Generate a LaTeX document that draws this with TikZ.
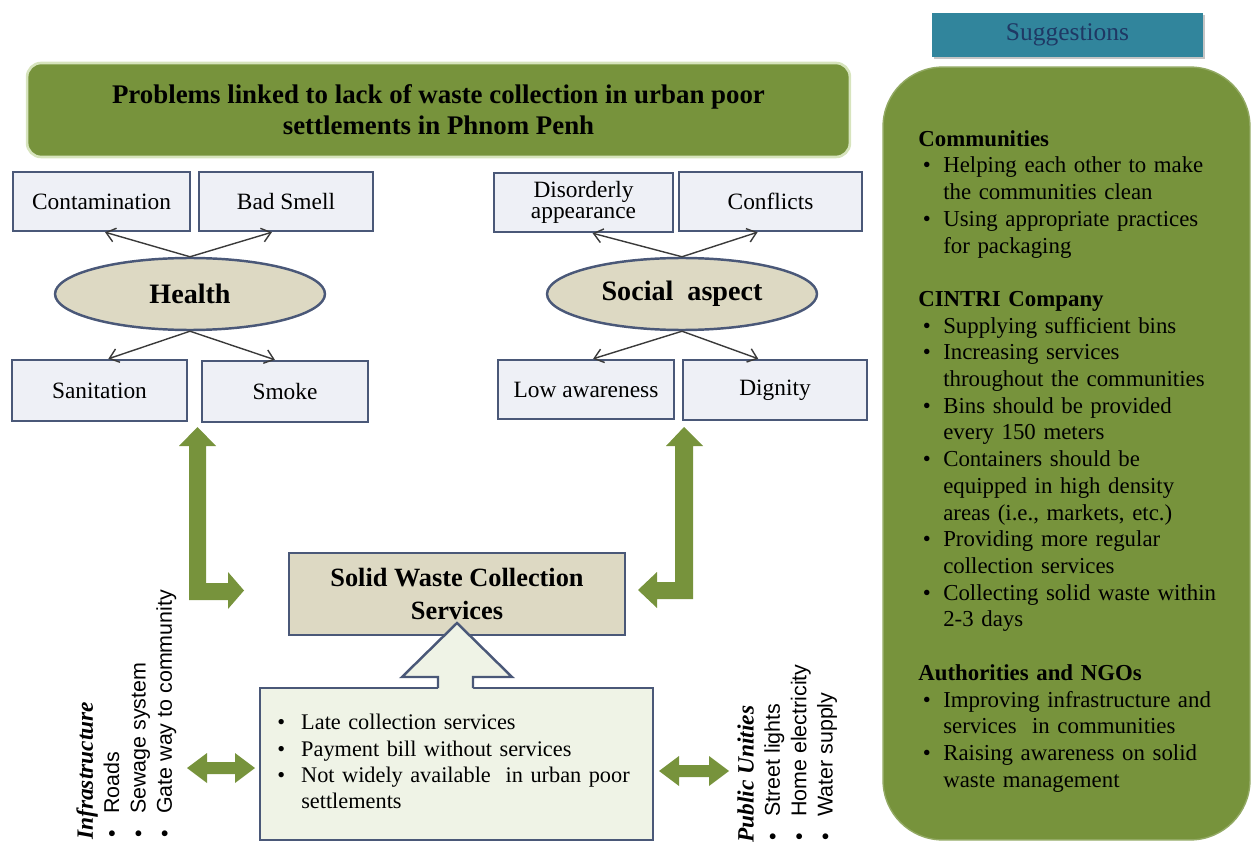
\documentclass[tikz,border=0pt]{standalone}
\usepackage{fontspec}
\setmainfont{Liberation Serif}
\setsansfont{Liberation Sans}
\usetikzlibrary{shapes.geometric,arrows.meta,calc,shadows}
\definecolor{oliveG}{HTML}{77933C}
\definecolor{titleB}{HTML}{D7E4BD}
\definecolor{boxline}{HTML}{4A5878}
\definecolor{boxfill}{HTML}{EEF0F6}
\definecolor{tanF}{HTML}{DDD9C3}
\definecolor{botF}{HTML}{EFF3E6}
\definecolor{tealS}{HTML}{31859C}
\definecolor{navyT}{HTML}{1F3864}
\definecolor{arrowc}{HTML}{3A3A3A}
\newcommand\bitm{\makebox[14.7pt][l]{\hspace{1pt}\textbullet}}
\newcommand\nl{\hfill\break}
\newcommand\sitm[1]{\hangindent=14.2pt\hangafter=1\noindent\makebox[14.2pt][l]{\hspace{2.5pt}\textbullet}#1\par}
\newcommand\pitm[1]{\hangindent=13.6pt\hangafter=1\noindent\makebox[13.6pt][l]{\textbullet}#1\par}
\begin{document}
\begin{tikzpicture}[x=0.02cm,y=-0.02cm,
  sbox/.style={draw=boxline, line width=1.4pt, fill=boxfill, minimum height=1.18cm, inner sep=0pt, align=center, font={\fontsize{13.3}{12}\selectfont}},
  ell/.style={ellipse, draw=boxline, line width=1.4pt, fill=tanF, minimum width=5.4cm, minimum height=1.44cm, inner sep=0pt, font={\fontsize{16}{18}\selectfont\bfseries}},
  thinarr/.style={-{Straight Barb[length=5pt,width=8pt]}, line width=0.8pt, draw=arrowc},
  garrow/.style={fill=oliveG},
  rlist/.style={rotate=90, anchor=north west, inner sep=0pt, align=left, font={\fontsize{12.2}{15}\selectfont}}
]
\useasboundingbox (0,0) rectangle (1257,844);

% title
\node[draw=titleB, line width=1.5pt, fill=oliveG, rounded corners=8pt, minimum width=16.46cm, minimum height=1.88cm, align=center, inner sep=0pt, font={\fontsize{15.3}{17.6}\selectfont\bfseries}] (title) at (438.5,110) {Problems linked to lack of waste collection in urban poor\\settlements in Phnom Penh};

% health side
\node[sbox, minimum width=3.54cm] (cont) at (101.5,201.5) {Contamination};
\node[sbox, minimum width=3.48cm] (bs) at (286,201.5) {Bad Smell};
\node[ell] (health) at (190,294) {Health};
\node[sbox, minimum width=3.5cm, minimum height=1.22cm] (sani) at (99.5,390.5) {Sanitation};
\node[sbox, minimum width=3.32cm, minimum height=1.22cm] (smoke) at (285,391.5) {Smoke};

% social side
\node[sbox, minimum width=3.58cm] (dis) at (583.5,202.5) {Disorderly\\appearance};
\node[sbox, minimum width=3.66cm] (conf) at (770.5,201.5) {Conflicts};
\node[ell] (social) at (682,294) {Social\ \ aspect};
\node[sbox, minimum width=3.52cm] (low) at (586,389.5) {Low awareness};
\node[sbox, minimum width=3.68cm, minimum height=1.2cm] (dig) at (775,390) {Dignity};

% thin arrows
\draw[thinarr] (health.north) -- ($(cont.south west)!0.52!(cont.south east)$);
\draw[thinarr] (health.north) -- ($(bs.south west)!0.42!(bs.south east)$);
\draw[thinarr] (health.south) -- ($(sani.north west)!0.55!(sani.north east)$);
\draw[thinarr] (health.south) -- ($(smoke.north west)!0.44!(smoke.north east)$);
\draw[thinarr] (social.north) -- ($(dis.south west)!0.55!(dis.south east)$);
\draw[thinarr] (social.north) -- ($(conf.south west)!0.43!(conf.south east)$);
\draw[thinarr] (social.south) -- ($(low.north west)!0.54!(low.north east)$);
\draw[thinarr] (social.south) -- ($(dig.north west)!0.41!(dig.north east)$);

% green elbow arrows
\fill[garrow] (197.5,427) -- (216,446) -- (206,446) -- (206,583) -- (228,583) -- (228,572) -- (244,590.5) -- (228,609) -- (228,600) -- (189,600) -- (189,446) -- (179,446) -- cycle;
\fill[garrow] (684,427) -- (703,446) -- (693,446) -- (693,599) -- (657,599) -- (657,608) -- (638,590) -- (657,572) -- (657,582) -- (675,582) -- (675,446) -- (666,446) -- cycle;

% solid waste collection services
\node[draw=boxline, line width=1.4pt, fill=tanF, minimum width=6.72cm, minimum height=1.64cm, inner sep=0pt, align=center, font={\fontsize{15}{18.7}\selectfont\bfseries}] (swcs) at (457,594) {Solid Waste Collection\\Services};

% problems box
\node[draw=boxline, line width=1.4pt, fill=botF, minimum width=7.86cm, minimum height=3.04cm, inner sep=0pt] (prob) at (456.5,764) {};
\node[anchor=north west, inner sep=0pt, text width=7.4cm, font={\fontsize{12.7}{15}\selectfont}] (probtxt) at (277,714) {%
\pitm{Late collection services}
\pitm{Payment bill without services}
\pitm{Not widely available\ \ in urban poor\nl settlements}};

% hollow up arrow
\fill[botF] (438,691) -- (438,677) -- (402,677) -- (457,623) -- (512,677) -- (473,677) -- (473,691) -- cycle;
\draw[boxline, line width=1.4pt, line join=miter] (438,688) -- (438,677) -- (402,677) -- (457,623) -- (512,677) -- (473,677) -- (473,688);

% double arrows
\fill[garrow] (187,768) -- (207,753) -- (207,762) -- (235,762) -- (235,753) -- (255,768) -- (235,783) -- (235,774) -- (207,774) -- (207,783) -- cycle;
\fill[garrow] (659,771) -- (679,756) -- (679,765) -- (709,765) -- (709,756) -- (729,771) -- (709,786) -- (709,777) -- (679,777) -- (679,786) -- cycle;

% rotated lists
\node[rlist] (infra) at (76,840) {{\fontsize{13.3}{15}\selectfont\bfseries\itshape Infrastructure}\\
\sffamily\bitm Roads\\
\sffamily\bitm Sewage system\\
\sffamily\bitm Gate way to community};
\node[rlist] (pub) at (737,843) {{\fontsize{13.3}{15}\selectfont\bfseries\itshape Public Unities}\\
\sffamily\bitm Street lights\\
\sffamily\bitm Home electricity\\
\sffamily\bitm Water supply};

% suggestions
\node[fill=tealS, minimum width=5.42cm, minimum height=0.88cm, inner sep=0pt, text=navyT, font={\fontsize{14.5}{16}\selectfont}, drop shadow={shadow xshift=1pt, shadow yshift=-1.2pt, fill=black!45}] (sugg) at (1067.5,35) {Suggestions};
\node[fill=oliveG, draw=oliveG!80!white, line width=0.8pt, rounded corners=34pt, minimum width=7.34cm, minimum height=15.46cm, inner sep=0pt] (panel) at (1066.5,453.5) {};
\node[anchor=north west, inner sep=0pt, text width=6.6cm, font={\fontsize{13}{15.2}\selectfont}] (paneltxt) at (918,130) {%
\noindent\textbf{Communities}\par
\sitm{Helping each other to make\nl the communities clean}
\sitm{Using appropriate practices\nl for packaging}
\vspace{15.2pt}
\noindent\textbf{CINTRI Company}\par
\sitm{Supplying sufficient bins}
\sitm{Increasing services\nl throughout the communities}
\sitm{Bins should be provided\nl every 150 meters}
\sitm{Containers should be\nl equipped in high density\nl areas (i.e., markets, etc.)}
\sitm{Providing more regular\nl collection services}
\sitm{Collecting solid waste within\nl 2-3 days}
\vspace{15.2pt}
\noindent\textbf{Authorities and NGOs}\par
\sitm{Improving infrastructure and\nl services\ \ in communities}
\sitm{Raising awareness on solid\nl waste management}};
\end{tikzpicture}
\end{document}
